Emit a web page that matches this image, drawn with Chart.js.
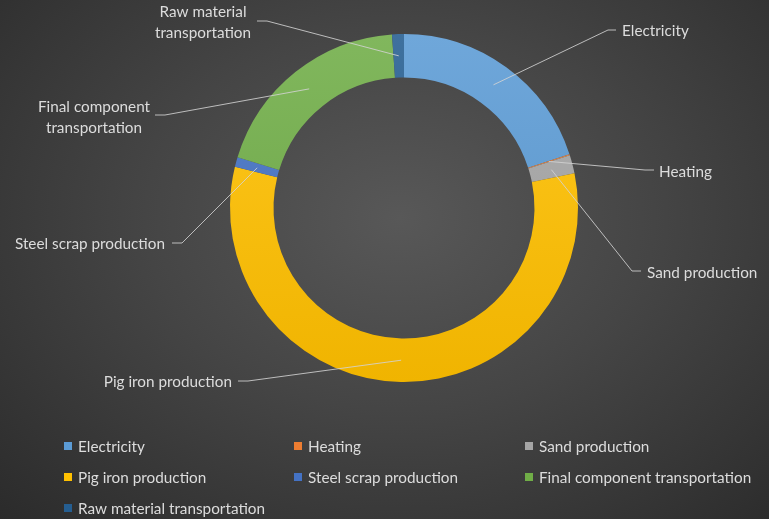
<!DOCTYPE html>
<html><head><meta charset="utf-8">
<script src="https://cdn.jsdelivr.net/npm/chart.js@4.4.0/dist/chart.umd.min.js"></script>
<style>
html,body{margin:0;padding:0;background:#2b2b2b;}
#wrap{width:769px;height:519px;position:relative;overflow:hidden;
  background:radial-gradient(ellipse farthest-corner at 52% 42%, #585858 0%, #454545 45%, #2b2b2b 100%);}
canvas{display:block}
</style></head><body>
<div id="wrap"><canvas id="c" width="769" height="519"></canvas></div>
<script>
// ---- data ----
const categories = ['Electricity','Heating','Sand production','Pig iron production','Steel scrap production','Final component transportation','Raw material transportation'];
const values = [20.0, 0.1, 1.7, 57.0, 0.9, 19.2, 1.1];
const colors = ['#5B9BD5','#ED7D31','#A5A5A5','#FFC000','#4472C4','#70AD47','#255E91'];

// ---- layout (label anchors, leader elbows, legend grid) ----
const labelLayout = [
  {x:622, y:31,  align:'left',   elbow:[608,30],  end:[616,30]},
  {x:659, y:172, align:'left',   elbow:[645,170], end:[654,170]},
  {x:647, y:273, align:'left',   elbow:[632,271], end:[641,271]},
  {x:232, y:382, align:'right',  elbow:[248,381], end:[238,381]},
  {x:165, y:244, align:'right',  elbow:[182,243], end:[172,243]},
  {x:94,  y:107, align:'center', split:2, elbow:[165,115], end:[155,115]},
  {x:203, y:12,  align:'center', split:2, elbow:[267,21],  end:[257,21]}
];
const legendCols = [64, 294, 525];
const legendRows = [446, 477, 508];

const FONT = 'Lato, "Open Sans", sans-serif';
const FSIZE = '15.3px ';
const TEXT = '#dcdcdc';

function shade(hex, amt){
  const n = parseInt(hex.slice(1),16);
  let r=(n>>16)&255, g=(n>>8)&255, b=n&255;
  const f = v => Math.max(0,Math.min(255,Math.round(amt>=0 ? v+(255-v)*amt : v*(1+amt))));
  return 'rgb('+f(r)+','+f(g)+','+f(b)+')';
}

const labelPlugin = {
  id:'outLabels',
  afterDatasetsDraw(chart){
    const c = chart.ctx;
    const meta = chart.getDatasetMeta(0);
    c.save();
    c.font = FSIZE + FONT;
    c.textBaseline = 'middle';
    meta.data.forEach((arc, i) => {
      const L = labelLayout[i];
      const p = arc.getCenterPoint();
      c.strokeStyle = 'rgba(210,210,210,0.85)';
      c.lineWidth = 1;
      c.beginPath();
      c.moveTo(p.x, p.y);
      c.lineTo(L.elbow[0], L.elbow[1]);
      c.lineTo(L.end[0], L.end[1]);
      c.stroke();
      c.fillStyle = TEXT;
      c.textAlign = L.align;
      const words = categories[i].split(' ');
      let lines = [categories[i]];
      if (L.split) lines = [words.slice(0,L.split).join(' '), words.slice(L.split).join(' ')];
      lines.forEach((t, k) => c.fillText(t, L.x, L.y + k*21));
    });
    c.restore();
  },
  afterDraw(chart){
    const c = chart.ctx;
    c.save();
    c.font = FSIZE + FONT;
    c.textBaseline = 'middle';
    c.textAlign = 'left';
    categories.forEach((name, i) => {
      const x = legendCols[i % 3], y = legendRows[Math.floor(i / 3)];
      c.fillStyle = colors[i];
      c.fillRect(x, y - 4, 8, 8);
      c.fillStyle = TEXT;
      c.fillText(name, x + 14, y + 1);
    });
    c.restore();
  }
};

new Chart(document.getElementById('c'), {
  type:'doughnut',
  data:{
    labels:categories,
    datasets:[{
      data:values,
      borderWidth:0,
      backgroundColor:(ctx) => {
        const base = colors[ctx.dataIndex];
        const area = ctx.chart.chartArea;
        if (!area) return base;
        const g = ctx.chart.ctx.createLinearGradient(0, area.top, 0, area.bottom);
        g.addColorStop(0, shade(base, 0.12));
        g.addColorStop(1, shade(base, -0.06));
        return g;
      }
    }]
  },
  options:{
    responsive:false,
    maintainAspectRatio:false,
    devicePixelRatio:1,
    animation:false,
    cutout:'75%',
    layout:{padding:{top:34,bottom:137,left:230,right:191}},
    plugins:{legend:{display:false},tooltip:{enabled:false}}
  },
  plugins:[labelPlugin]
});
</script>
</body></html>
